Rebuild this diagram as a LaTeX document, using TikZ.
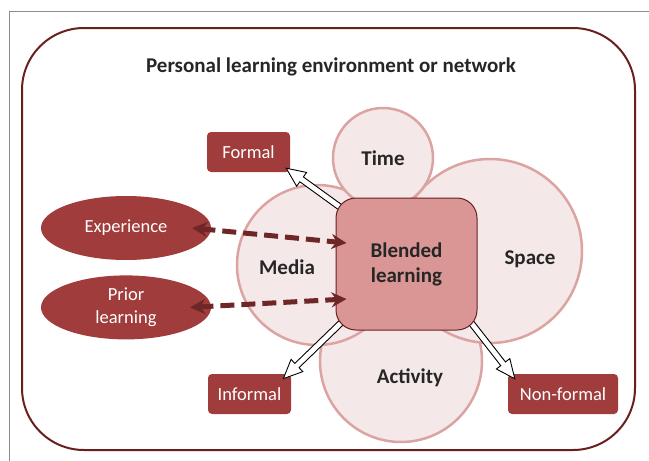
\documentclass[tikz,border=0pt]{standalone}
\usepackage{fontspec}
\setmainfont{Carlito}
\usetikzlibrary{arrows.meta,positioning,shapes.geometric,calc}
\definecolor{framegray}{HTML}{8C8C8C}
\definecolor{maroon}{HTML}{6A1F1F}
\definecolor{zonefill}{HTML}{F5E8E8}
\definecolor{zoneedge}{HTML}{DCA3A3}
\definecolor{corefill}{HTML}{D99695}
\definecolor{tagfill}{HTML}{A03C3B}
\definecolor{dashcol}{HTML}{6E2626}
\definecolor{ink}{HTML}{262626}
\tikzset{
    %Define standard arrow tip
    >={Stealth[length=15pt,width=15pt]},
    %Define style for circles
    zone/.style={
           circle,
           draw=zoneedge, line width=2.5pt,
           fill=zonefill,
           inner sep=0pt,
           font=\fontsize{21}{25}\selectfont\bfseries,
           text=ink,
           },
    zonetext/.style={
           font=\fontsize{21}{25}\selectfont\bfseries,
           text=ink,
           },
    %Define style for the central box
    core/.style={
           rectangle,
           rounded corners=20pt,
           draw=maroon, line width=1pt,
           fill=corefill,
           minimum width=141pt,
           minimum height=132pt,
           align=center,
           font=\fontsize{21}{25}\selectfont\bfseries,
           text=ink,
           },
    %Define style for small boxes
    tag/.style={
           rectangle,
           rounded corners=4pt,
           fill=tagfill,
           minimum height=40pt,
           text=white,
           font=\fontsize{18.5}{23}\selectfont,
           },
    %Define style for ellipses
    source/.style={
           ellipse,
           fill=tagfill,
           inner sep=0pt,
           minimum width=170pt,
           minimum height=64pt,
           align=center,
           text=white,
           font=\fontsize{18.5}{23}\selectfont,
           },
    % Define arrow styles
    link/.style={
           <->,
           line width=5pt,
           draw=dashcol,
           dash pattern=on 14pt off 7pt,},
    hollow/.style={
           draw=black,
           line width=0.9pt,
           fill=white,}
}
% block arrow from #1 to #2
\newcommand{\hollowarrow}[2]{%
  \path let \p1=#1, \p2=#2 in
    \pgfextra{%
      \pgfmathsetmacro\harang{atan2(\y2-\y1,\x2-\x1)}%
      \pgfmathsetmacro\harlen{veclen(\x2-\x1,\y2-\y1)}%
      \xdef\harx{\x1}\xdef\hary{\y1}\xdef\harA{\harang}\xdef\harL{\harlen}};
  \begin{scope}[shift={(\harx,\hary)}, rotate=\harA]
    \pgfmathsetmacro\harB{\harL-19}
    \draw[hollow] (0,3) -- (\harB,3) -- (\harB,8.5) -- (\harL,0)
      -- (\harB,-8.5) -- (\harB,-3) -- (0,-3) -- cycle;
  \end{scope}}

\begin{document}
\begin{tikzpicture}[x=1pt,y=-1pt]
\useasboundingbox (0,0) rectangle (649,461);
 %frame
\draw[framegray, line width=1pt] (9,461) -- (9,11) -- (649,11);
\draw[maroon, line width=2pt, rounded corners=62pt] (22,28) rectangle (635,450);
\node[font=\fontsize{21}{25}\selectfont\bfseries, text=ink] (title) at (331,67)
  {Personal learning environment or network};
 %circles
\node[zone, minimum size=162pt,
  label={[zonetext, xshift=9pt, yshift=-17pt]center:Activity}] (activity) at (401,361) {};
\node[zone, minimum size=160pt,
  label={[zonetext, xshift=-30pt, yshift=-2pt]center:Media}] (media) at (317,265) {};
\node[zone, minimum size=184pt,
  label={[zonetext, xshift=40pt, yshift=-8pt]center:Space}] (space) at (490,251) {};
\node[zone, minimum size=100pt] (time) at (383,158) {Time};
 %small boxes
\node[tag, minimum width=83pt] (formal) at (248.5,152) {Formal};
\node[tag, minimum width=83pt] (informal) at (249.5,394) {Informal};
\node[tag, minimum width=110pt] (nonformal) at (563,394) {Non-formal};
 %block arrows
\coordinate (hub) at (406.5,264);
\hollowarrow{([shift={(-62.5,-54)}]hub)}{([shift={(-4,-4)}]formal.south east)}
\hollowarrow{([shift={(-62.5,56)}]hub)}{([shift={(-8,5)}]informal.north east)}
\hollowarrow{([shift={(62.5,56)}]hub)}{([shift={(7,5)}]nonformal.north west)}
\node[core] (blend) at (hub) {Blended\\learning};
 %ellipses
\node[source] (exp) at (126,228) {Experience};
\node[source, below=15pt of exp] (prior) {Prior\\learning};
\draw[link] ([shift={(-19,0)}]exp.east) -- ([shift={(11,-21)}]blend.west);
\draw[link] ([shift={(-21,0)}]prior.east) -- ([shift={(11,35)}]blend.west);
\end{tikzpicture}
\end{document}
